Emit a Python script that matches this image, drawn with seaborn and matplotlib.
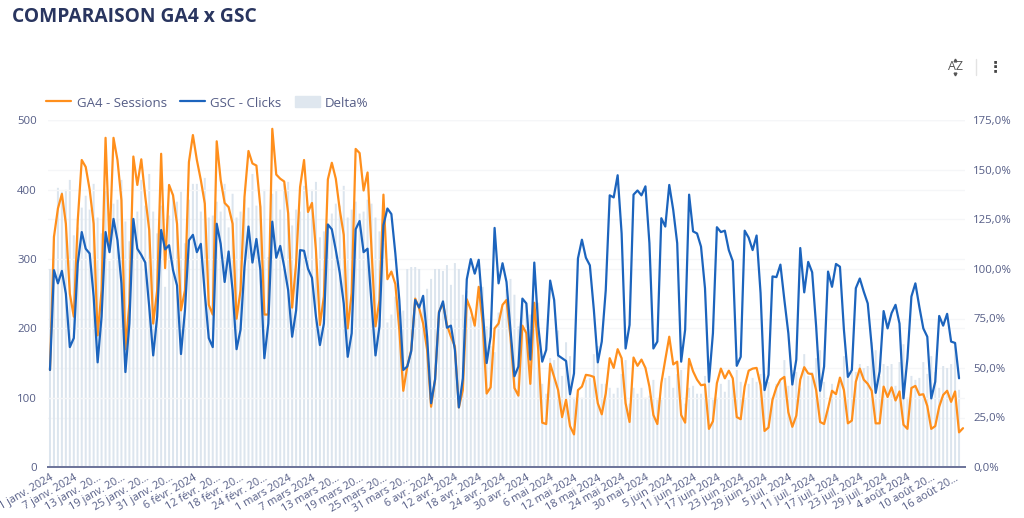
import numpy as np
import pandas as pd
import seaborn as sns
import matplotlib.pyplot as plt
from matplotlib.lines import Line2D
from matplotlib.patches import Patch

ga4_sessions = [
    140, 332, 373, 394, 351, 250, 217,
    356, 443, 433, 400, 351, 190, 255,
    475, 322, 475, 443, 385, 170, 236,
    448, 407, 444, 390, 342, 207, 255,
    452, 287, 407, 392, 351, 226, 255,
    440, 479, 443, 414, 380, 234, 220,
    470, 414, 381, 375, 351, 214, 255,
    390, 456, 438, 435, 375, 220, 220,
    488, 422, 416, 412, 366, 230, 294,
    404, 443, 368, 381, 313, 205, 246,
    415, 439, 416, 371, 335, 200, 251,
    459, 453, 399, 425, 313, 203, 241,
    393, 271, 282, 264, 198, 110, 145,
    169, 243, 229, 207, 169, 87, 126,
    224, 236, 205, 188, 174, 86, 111,
    242, 227, 204, 260, 207, 106, 115,
    200, 207, 234, 241, 188, 114, 103,
    204, 193, 120, 237, 169, 64, 62,
    149, 130, 111, 72, 97, 59, 47,
    111, 116, 133, 132, 130, 92, 76,
    106, 157, 143, 170, 157, 92, 65,
    158, 146, 155, 143, 116, 75, 62,
    121, 155, 188, 148, 152, 75, 64,
    156, 138, 126, 118, 119, 55, 66,
    121, 142, 128, 139, 128, 72, 69,
    116, 139, 142, 143, 118, 52, 57,
    97, 115, 126, 130, 79, 58, 74,
    126, 144, 135, 134, 111, 65, 62,
    85, 110, 105, 129, 111, 63, 67,
    123, 142, 126, 120, 110, 63, 63,
    116, 101, 115, 96, 109, 61, 55,
    114, 117, 104, 105, 88, 55, 59,
    87, 104, 110, 94, 109, 50, 56,
]

gsc_clicks = [
    140, 284, 265, 283, 250, 173, 186,
    294, 339, 315, 308, 246, 151, 217,
    339, 310, 358, 327, 265, 137, 207,
    358, 315, 306, 295, 231, 161, 217,
    342, 314, 320, 284, 262, 163, 226,
    327, 335, 310, 322, 250, 186, 173,
    351, 322, 267, 311, 255, 170, 198,
    289, 347, 295, 329, 284, 157, 207,
    354, 302, 319, 289, 255, 188, 226,
    313, 312, 286, 273, 217, 176, 207,
    350, 343, 313, 280, 236, 159, 193,
    343, 355, 310, 315, 236, 161, 203,
    349, 373, 365, 308, 241, 140, 145,
    167, 241, 230, 247, 188, 92, 126,
    223, 239, 201, 204, 169, 86, 128,
    271, 300, 279, 299, 227, 150, 188,
    345, 265, 294, 267, 198, 131, 145,
    243, 236, 155, 295, 203, 152, 169,
    269, 241, 161, 157, 153, 105, 135,
    301, 328, 302, 291, 227, 151, 181,
    255, 392, 389, 421, 337, 171, 205,
    393, 399, 392, 405, 323, 171, 181,
    359, 347, 407, 371, 323, 152, 198,
    393, 340, 337, 318, 258, 123, 193,
    346, 339, 341, 313, 297, 146, 159,
    341, 331, 313, 334, 251, 111, 133,
    275, 274, 292, 241, 193, 119, 155,
    316, 252, 296, 281, 203, 110, 145,
    282, 260, 293, 289, 198, 130, 140,
    258, 272, 253, 236, 174, 107, 138,
    225, 200, 222, 234, 207, 99, 157,
    246, 265, 231, 200, 188, 99, 123,
    218, 204, 221, 181, 179, 128, np.nan,
]

delta_pct = [
    100, 117, 141, 139, 140, 145, 117,
    121, 131, 137, 130, 143, 126, 118,
    140, 104, 133, 135, 145, 124, 114,
    125, 129, 145, 132, 148, 129, 118,
    132, 91, 127, 138, 134, 139, 113,
    135, 143, 143, 129, 146, 126, 127,
    134, 129, 143, 121, 138, 126, 129,
    135, 131, 148, 132, 132, 140, 106,
    138, 140, 130, 143, 144, 122, 130,
    129, 142, 129, 140, 144, 116, 119,
    119, 128, 133, 132, 142, 126, 130,
    134, 128, 129, 135, 133, 126, 119,
    113, 73, 77, 86, 82, 79, 100,
    101, 101, 100, 84, 90, 95, 100,
    100, 99, 102, 92, 103, 100, 87,
    89, 76, 73, 87, 91, 71, 61,
    58, 78, 80, 90, 95, 87, 71,
    84, 82, 77, 80, 83, 42, 37,
    55, 54, 69, 46, 63, 56, 35,
    37, 35, 44, 45, 57, 61, 42,
    42, 40, 37, 40, 47, 54, 32,
    40, 37, 40, 35, 36, 44, 34,
    34, 45, 46, 40, 47, 49, 32,
    40, 41, 37, 37, 46, 45, 34,
    35, 42, 38, 44, 43, 49, 43,
    34, 42, 45, 43, 47, 47, 43,
    35, 42, 43, 54, 41, 49, 48,
    40, 57, 46, 48, 55, 59, 43,
    30, 42, 36, 45, 56, 48, 48,
    48, 52, 50, 51, 63, 59, 46,
    52, 51, 52, 41, 53, 62, 35,
    46, 44, 45, 53, 47, 56, 48,
    40, 51, 50, 52, 61, 39, np.nan,
]

date_labels = [
    "1 janv. 2024", "7 janv. 2024", "13 janv. 20...", "19 janv. 20...", "25 janv. 20...",
    "31 janv. 20...", "6 févr. 2024", "12 févr. 20...", "18 févr. 20...", "24 févr. 20...",
    "1 mars 2024", "7 mars 2024", "13 mars 20...", "19 mars 20...", "25 mars 20...",
    "31 mars 20...", "6 avr. 2024", "12 avr. 2024", "18 avr. 2024", "24 avr. 2024",
    "30 avr. 2024", "6 mai 2024", "12 mai 2024", "18 mai 2024", "24 mai 2024",
    "30 mai 2024", "5 juin 2024", "11 juin 2024", "17 juin 2024", "23 juin 2024",
    "29 juin 2024", "5 juil. 2024", "11 juil. 2024", "17 juil. 2024", "23 juil. 2024",
    "29 juil. 2024", "4 août 2024", "10 août 20...", "16 août 20...",
]

ORANGE = "#ff8f1c"
BLUE = "#1c64bd"
BAR = "#dce5ee"
TEXT = "#555d86"
GRID = "#f5f6f8"

sns.set_theme(style="white")
plt.rcParams["font.family"] = ["Open Sans", "DejaVu Sans"]

df = pd.DataFrame({"ga4": ga4_sessions, "gsc": gsc_clicks, "delta": delta_pct})
df["day"] = df.index

fig = plt.figure(figsize=(10.24, 5.18), dpi=100)
ax = fig.add_axes([48 / 1024, 1 - 467 / 518, 917 / 1024, 346.5 / 518])

# bars go on the right hand axis, lines on a twin so they stay on top
sns.barplot(data=df, x="day", y="delta", native_scale=True, color=BAR, saturation=1,
            width=0.5, errorbar=None, linewidth=0, ax=ax)
# no pixel snapping, the bars are narrow and get uneven widths otherwise
for p in ax.patches:
    p.set_snap(False)
ax.set_xlim(-0.5, 230.5)
ax.set_ylim(0, 175)
ax.set_xticks(np.arange(0, 231, 6))
ax.set_xticklabels(date_labels, rotation=30, ha="right", rotation_mode="anchor")
ax.set_xlabel("")
ax.set_ylabel("")
ax.grid(axis="y", color=GRID, lw=1)
ax.set_axisbelow(True)

ax2 = ax.twinx()
sns.lineplot(data=df, x="day", y="ga4", color=ORANGE, lw=1.6, ax=ax2)
sns.lineplot(data=df, x="day", y="gsc", color=BLUE, lw=1.6, ax=ax2)
ax2.set_ylim(0, 500)
ax2.yaxis.tick_left()
ax2.set_yticks(np.arange(0, 501, 100))
ax2.set_xlabel("")
ax2.set_ylabel("")
ax2.grid(axis="y", color=GRID, lw=1)
ax2.set_axisbelow(True)
ax2.tick_params(axis="y", length=0, pad=8, labelsize=8.2, labelcolor=TEXT)

# twinx moves the first axis ticks back, so set them after it
ax.yaxis.tick_right()
ax.set_yticks(np.arange(0, 176, 25))
ax.set_yticklabels([f"{v},0%" for v in range(0, 176, 25)])
ax.tick_params(axis="x", length=0, pad=4, labelsize=7.8, labelcolor=TEXT)
ax.tick_params(axis="y", length=0, pad=6, labelsize=8.2, labelcolor=TEXT)

for a in (ax, ax2):
    sns.despine(ax=a, left=True, right=True, top=True)
    a.spines["bottom"].set_color("#6f769b")
    a.spines["bottom"].set_linewidth(1.4)

handles = [
    Line2D([], [], color=ORANGE, lw=1.6),
    Line2D([], [], color=BLUE, lw=1.6),
    Patch(color="#dfe7ef"),
]
fig.legend(handles, ["GA4 - Sessions", "GSC - Clicks", "Delta%"], loc="center left",
           bbox_to_anchor=(34.5 / 1024, 1 - 103 / 518), ncol=3, frameon=False, fontsize=9.5,
           labelcolor=TEXT, handlelength=1.9, handletextpad=0.4, columnspacing=1.0, handleheight=0.9)

fig.text(12 / 1024, 1 - 17.5 / 518, "COMPARAISON GA4 x GSC", fontsize=13.9, fontweight="bold",
         color="#29355f", va="center", ha="left")

# toolbar icons at the top right
fig.text(955 / 1024, 1 - 67 / 518, "AZ", fontsize=9, color="#555555", va="center", ha="center")
fig.add_artist(Line2D([955 / 1024], [1 - 60 / 518], marker="^", ms=2, color="#555555", lw=0))
fig.add_artist(Line2D([955 / 1024], [1 - 74 / 518], marker="v", ms=2, color="#555555", lw=0))
fig.text(995 / 1024, 1 - 67 / 518, "⋮", fontsize=11, color="#444444", va="center", ha="center",
         fontweight="bold", family="DejaVu Sans")
fig.add_artist(Line2D([975.5 / 1024, 975.5 / 1024], [1 - 59 / 518, 1 - 75 / 518], color="#e3e3e3", lw=1))

fig.savefig("out.png", dpi=100)
